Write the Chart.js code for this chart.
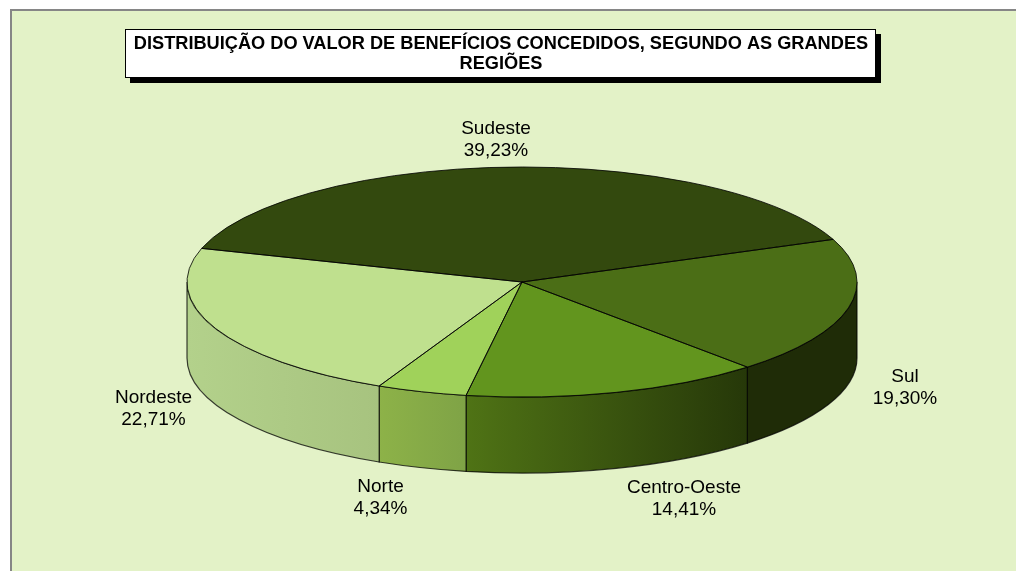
<!DOCTYPE html>
<html><head><meta charset="utf-8">
<style>html,body{margin:0;padding:0;background:#fff}canvas{display:block}</style>
<script src="https://cdn.jsdelivr.net/npm/chart.js@4"></script>
</head><body><canvas id="c" width="1016" height="571"></canvas>
<script>
const categories = ["Sudeste","Sul","Centro-Oeste","Norte","Nordeste"];
const values = [39.23,19.30,14.41,4.34,22.71];
const titleLines = ["DISTRIBUIÇÃO DO VALOR DE BENEFÍCIOS CONCEDIDOS, SEGUNDO AS GRANDES","REGIÕES"];
const topColors = ["#33490E","#4B6E16","#62951E","#A0D25A","#BFE08E"];
const wallLeft = ["#1F2C07","#1F2C07","#4F7315","#8DB248","#B3D18B"];
const wallRight = ["#1F2C07","#1F2C07","#263809","#7FA346","#A7C37F"];
const labelAnchors = [[496,129],[905,377],[684,488],[380.5,487],[153.5,398]];
const GEO = {cx:522,cy:282,rx:335,ry:115,depth:76};
const fmt = v => v.toFixed(2).replace(".",",")+"%";

const pie3d = {
  id:"pie3d",
  beforeDraw(chart){
    const c=chart.ctx; c.save();
    c.fillStyle="#E3F2C7"; c.fillRect(10,9,1006,562);
    c.fillStyle="#868686"; c.fillRect(10,9,1006,2); c.fillRect(10,9,2,562);
    c.fillStyle="#000"; c.fillRect(130,34,751,49);
    c.fillStyle="#fff"; c.fillRect(125,29,751,49);
    c.strokeStyle="#000"; c.lineWidth=1; c.strokeRect(125.5,29.5,750,48);
    c.fillStyle="#000"; c.font="bold 18.2px 'Liberation Sans'"; c.textAlign="center"; c.textBaseline="middle";
    c.fillText(titleLines[0],501,44); c.fillText(titleLines[1],501,64);
    c.restore();
  },
  beforeDatasetsDraw(chart){
    const c=chart.ctx, g=GEO, arcs=chart.getDatasetMeta(0).data;
    c.save();
    arcs.forEach((el,i)=>{
      const s=el.startAngle,e=el.endAngle;
      for(let k=-1;k<=1;k++){
        const a=Math.max(s+2*Math.PI*k,0), b=Math.min(e+2*Math.PI*k,Math.PI);
        if(a>=b) continue;
        const x1=g.cx+g.rx*Math.cos(b), x2=g.cx+g.rx*Math.cos(a);
        const gr=c.createLinearGradient(x1,0,x2,0);
        gr.addColorStop(0,wallLeft[i]); gr.addColorStop(1,wallRight[i]);
        c.beginPath();
        c.ellipse(g.cx,g.cy,g.rx,g.ry,0,a,b);
        c.ellipse(g.cx,g.cy+g.depth,g.rx,g.ry,0,b,a,true);
        c.closePath();
        c.fillStyle=gr; c.fill();
        c.strokeStyle="rgba(0,0,0,.75)"; c.lineWidth=1.2; c.stroke();
      }
    });
    const el=arcs[0], R=el.outerRadius;
    c.translate(g.cx,g.cy); c.scale(g.rx/R,g.ry/R); c.translate(-el.x,-el.y);
    // restored in afterDatasetsDraw: the library's own arcs are drawn flattened
  },
  afterDatasetsDraw(chart){
    const c=chart.ctx, g=GEO, arcs=chart.getDatasetMeta(0).data;
    c.restore();
    c.save();
    c.strokeStyle="rgba(0,0,0,.8)"; c.lineWidth=1;
    arcs.forEach(el=>{
      c.beginPath(); c.moveTo(g.cx,g.cy);
      c.ellipse(g.cx,g.cy,g.rx,g.ry,0,el.startAngle,el.endAngle);
      c.closePath(); c.stroke();
    });
    c.fillStyle="#000"; c.font="19px 'Liberation Sans'"; c.textAlign="center"; c.textBaseline="middle";
    categories.forEach((n,i)=>{
      const [x,y]=labelAnchors[i];
      c.fillText(n,x,y); c.fillText(fmt(values[i]),x,y+22);
    });
    c.restore();
  }
};

new Chart(document.getElementById("c"),{
  type:"pie",
  data:{labels:categories,datasets:[{data:values,backgroundColor:topColors,borderWidth:0,hoverOffset:0}]},
  options:{
    responsive:false,animation:false,devicePixelRatio:1,rotation:-73,
    layout:{padding:0},events:[],
    plugins:{legend:{display:false},title:{display:false},tooltip:{enabled:false}}
  },
  plugins:[pie3d]
});
</script></body></html>
